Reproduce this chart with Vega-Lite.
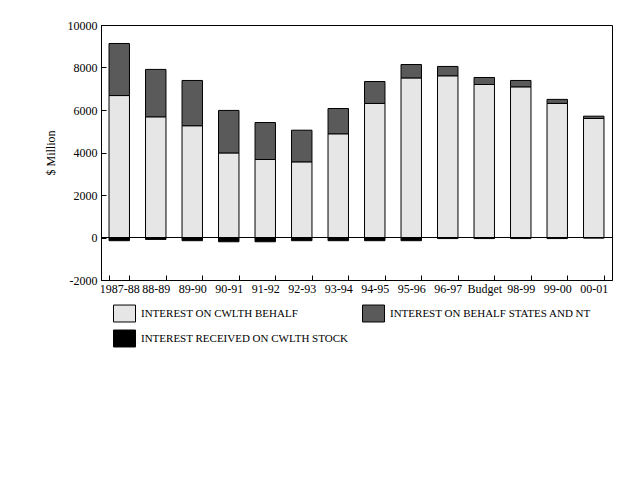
{
  "$schema": "https://vega.github.io/schema/vega-lite/v6.json",
  "width": 511,
  "height": 255,
  "autosize": {"type": "none"},
  "padding": {"left": 101, "top": 25, "right": 28, "bottom": 200},
  "background": "white",
  "config": {
    "font": "Liberation Serif",
    "view": {"stroke": "black", "strokeWidth": 1},
    "axis": {
      "domainColor": "black",
      "tickColor": "black",
      "labelColor": "black",
      "titleColor": "black",
      "labelFontSize": 12,
      "titleFontSize": 12,
      "titleFontWeight": "normal",
      "grid": false
    }
  },
  "data": {
    "values": [
      {"year": "1987-88", "series": "INTEREST ON CWLTH BEHALF", "o": 1, "value": 6680},
      {"year": "1987-88", "series": "INTEREST ON BEHALF STATES AND NT", "o": 2, "value": 2450},
      {"year": "1987-88", "series": "INTEREST RECEIVED ON CWLTH STOCK", "o": 3, "value": -150},
      {"year": "88-89", "series": "INTEREST ON CWLTH BEHALF", "o": 1, "value": 5680},
      {"year": "88-89", "series": "INTEREST ON BEHALF STATES AND NT", "o": 2, "value": 2230},
      {"year": "88-89", "series": "INTEREST RECEIVED ON CWLTH STOCK", "o": 3, "value": -90},
      {"year": "89-90", "series": "INTEREST ON CWLTH BEHALF", "o": 1, "value": 5260},
      {"year": "89-90", "series": "INTEREST ON BEHALF STATES AND NT", "o": 2, "value": 2130},
      {"year": "89-90", "series": "INTEREST RECEIVED ON CWLTH STOCK", "o": 3, "value": -150},
      {"year": "90-91", "series": "INTEREST ON CWLTH BEHALF", "o": 1, "value": 3980},
      {"year": "90-91", "series": "INTEREST ON BEHALF STATES AND NT", "o": 2, "value": 2000},
      {"year": "90-91", "series": "INTEREST RECEIVED ON CWLTH STOCK", "o": 3, "value": -200},
      {"year": "91-92", "series": "INTEREST ON CWLTH BEHALF", "o": 1, "value": 3670},
      {"year": "91-92", "series": "INTEREST ON BEHALF STATES AND NT", "o": 2, "value": 1740},
      {"year": "91-92", "series": "INTEREST RECEIVED ON CWLTH STOCK", "o": 3, "value": -200},
      {"year": "92-93", "series": "INTEREST ON CWLTH BEHALF", "o": 1, "value": 3560},
      {"year": "92-93", "series": "INTEREST ON BEHALF STATES AND NT", "o": 2, "value": 1490},
      {"year": "92-93", "series": "INTEREST RECEIVED ON CWLTH STOCK", "o": 3, "value": -150},
      {"year": "93-94", "series": "INTEREST ON CWLTH BEHALF", "o": 1, "value": 4880},
      {"year": "93-94", "series": "INTEREST ON BEHALF STATES AND NT", "o": 2, "value": 1190},
      {"year": "93-94", "series": "INTEREST RECEIVED ON CWLTH STOCK", "o": 3, "value": -150},
      {"year": "94-95", "series": "INTEREST ON CWLTH BEHALF", "o": 1, "value": 6310},
      {"year": "94-95", "series": "INTEREST ON BEHALF STATES AND NT", "o": 2, "value": 1030},
      {"year": "94-95", "series": "INTEREST RECEIVED ON CWLTH STOCK", "o": 3, "value": -150},
      {"year": "95-96", "series": "INTEREST ON CWLTH BEHALF", "o": 1, "value": 7510},
      {"year": "95-96", "series": "INTEREST ON BEHALF STATES AND NT", "o": 2, "value": 630},
      {"year": "95-96", "series": "INTEREST RECEIVED ON CWLTH STOCK", "o": 3, "value": -150},
      {"year": "96-97", "series": "INTEREST ON CWLTH BEHALF", "o": 1, "value": 7610},
      {"year": "96-97", "series": "INTEREST ON BEHALF STATES AND NT", "o": 2, "value": 440},
      {"year": "96-97", "series": "INTEREST RECEIVED ON CWLTH STOCK", "o": 3, "value": -50},
      {"year": "Budget", "series": "INTEREST ON CWLTH BEHALF", "o": 1, "value": 7200},
      {"year": "Budget", "series": "INTEREST ON BEHALF STATES AND NT", "o": 2, "value": 330},
      {"year": "Budget", "series": "INTEREST RECEIVED ON CWLTH STOCK", "o": 3, "value": -50},
      {"year": "98-99", "series": "INTEREST ON CWLTH BEHALF", "o": 1, "value": 7090},
      {"year": "98-99", "series": "INTEREST ON BEHALF STATES AND NT", "o": 2, "value": 300},
      {"year": "98-99", "series": "INTEREST RECEIVED ON CWLTH STOCK", "o": 3, "value": -50},
      {"year": "99-00", "series": "INTEREST ON CWLTH BEHALF", "o": 1, "value": 6310},
      {"year": "99-00", "series": "INTEREST ON BEHALF STATES AND NT", "o": 2, "value": 190},
      {"year": "99-00", "series": "INTEREST RECEIVED ON CWLTH STOCK", "o": 3, "value": -50},
      {"year": "00-01", "series": "INTEREST ON CWLTH BEHALF", "o": 1, "value": 5600},
      {"year": "00-01", "series": "INTEREST ON BEHALF STATES AND NT", "o": 2, "value": 110},
      {"year": "00-01", "series": "INTEREST RECEIVED ON CWLTH STOCK", "o": 3, "value": -30}
    ]
  },
  "layer": [
    {
      "mark": {"type": "bar", "stroke": "black", "strokeWidth": 1},
      "encoding": {
        "x": {
          "field": "year",
          "type": "nominal",
          "sort": null,
          "title": null,
          "scale": {"paddingInner": 0.44, "paddingOuter": 0.22},
          "axis": {
            "labelAngle": 0,
            "tickBand": "extent",
            "tickSize": -5,
            "labelPadding": 8,
            "labelOverlap": false,
            "labelBound": false
          }
        },
        "y": {
          "field": "value",
          "type": "quantitative",
          "stack": "zero",
          "title": "$ Million",
          "scale": {"domain": [-2000, 10000], "nice": false},
          "axis": {
            "values": [-2000, -1000, 0, 1000, 2000, 3000, 4000, 5000, 6000, 7000, 8000, 9000, 10000],
            "labelExpr": "datum.value % 2000 == 0 ? datum.value : ''",
            "tickSize": -5,
            "labelPadding": 9,
            "titlePadding": 10
          }
        },
        "order": {"field": "o"},
        "color": {
          "field": "series",
          "type": "nominal",
          "scale": {
            "domain": ["INTEREST ON CWLTH BEHALF", "INTEREST ON BEHALF STATES AND NT", "INTEREST RECEIVED ON CWLTH STOCK"],
            "range": ["#e6e6e6", "#5a5a5a", "black"]
          },
          "legend": {
            "orient": "none",
            "direction": "horizontal",
            "legendX": 12,
            "legendY": 277,
            "title": null,
            "columns": 2,
            "columnPadding": 11,
            "rowPadding": 3,
            "symbolType": "M-1,-0.77L1,-0.77L1,0.77L-1,0.77Z",
            "symbolSize": 484,
            "symbolStrokeColor": "black",
            "symbolStrokeWidth": 1,
            "symbolOpacity": 1,
            "labelFontSize": 11,
            "labelColor": "black",
            "labelOffset": 5,
            "labelLimit": 400
          }
        }
      }
    },
    {
      "mark": {"type": "rule", "color": "black", "strokeWidth": 1},
      "encoding": {"y": {"datum": 0}}
    }
  ]
}
